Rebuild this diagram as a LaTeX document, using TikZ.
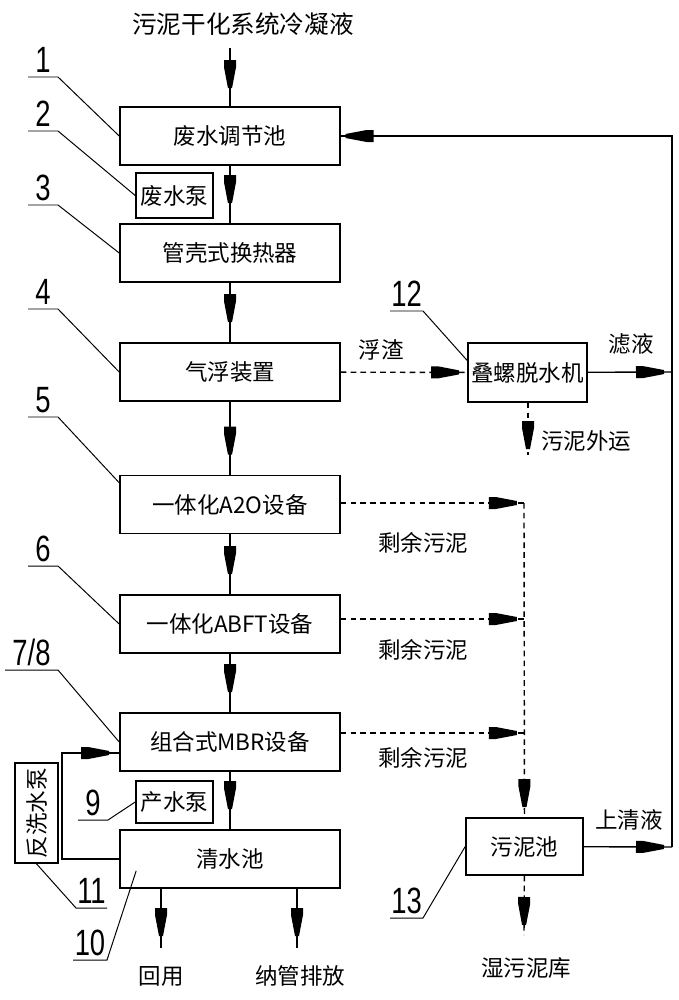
\documentclass[tikz,border=0pt]{standalone}
\usepackage{fontspec}
\setmainfont{Noto Sans CJK SC}
\newfontfamily\numfont[FakeStretch=0.75]{Liberation Sans}
\usetikzlibrary{arrows.meta,decorations.markings,calc}
\tikzset{
  box/.style={draw, line width=1.1pt, minimum width=5.5cm, minimum height=1.45cm, inner sep=0pt, font=\fontsize{16}{16}\selectfont},
  lbl/.style={inner sep=0pt, font=\fontsize{16}{16}\selectfont},
  numtext/.style={inner sep=0pt, anchor=base, font=\numfont\fontsize{26}{26}\selectfont},
  leader/.style={line width=0.7pt},
  mainline/.style={line width=2pt},
  thinline/.style={line width=1pt},
  sludge/.style={line width=1pt, dash pattern=on 4pt off 3pt},
  flow/.style={postaction={decorate}, decoration={markings, mark=at position #1 with {\fill (-28,-6) -- (-21,-6) -- (0,-2) -- (0,2) -- (-21,6) -- (-28,6) -- cycle;}}},
  flow/.default={-0.2cm}
}
\newcommand{\procbox}[3] {\node at (#1) (#2) [box] {#3};}
\newcommand{\unitbox}[5] {\node at (#1) (#2) [box, minimum width=#4, minimum height=#5] {#3};}
\newcommand{\callout}[5] {\node at ($(#1)!0.5!(#2)+(0,-5)$) (#3) [numtext] {#4}; \draw [leader] (#1) -- (#2) -- (#5);}

\begin{document}
\begin{tikzpicture}[x=0.025cm, y=-0.025cm]
\useasboundingbox (0,0) rectangle (678,1000);

\node at (243,24) (src) [lbl, font=\fontsize{17.5}{17.5}\selectfont] {污泥干化系统冷凝液};
\procbox {230,136} {b1} {废水调节池}
\unitbox {174.5,195.5} {p2} {废水泵} {1.925cm} {1.125cm}
\procbox {230,253} {b3} {管壳式换热器}
\procbox {230,372} {b4} {气浮装置}
\procbox {230,504.5} {b5} {一体化A2O设备}
\procbox {230,624} {b6} {一体化ABFT设备}
\procbox {230,742} {b7} {组合式MBR设备}
\unitbox {174.5,802} {p9} {产水泵} {1.925cm} {1.05cm}
\procbox {230,859} {b10} {清水池}
\node at (36.5,813) (p11) [box, rotate=90, minimum width=2.5cm, minimum height=1.075cm] {反洗水泵};
\unitbox {527.5,372.5} {b12} {叠螺脱水机} {2.975cm} {1.475cm}
\unitbox {524.5,846.5} {b13} {污泥池} {2.925cm} {1.425cm}

\node at (381,350) (fz) [lbl] {浮渣};
\node at (631,344) (ly) [lbl] {滤液};
\node at (586,441) (wy) [lbl] {污泥外运};
\node at (423,543) (sy1) [lbl] {剩余污泥};
\node at (423,650) (sy2) [lbl] {剩余污泥};
\node at (423,758) (sy3) [lbl] {剩余污泥};
\node at (629,820) (sq) [lbl] {上清液};
\node at (526,968) (ku) [lbl] {湿污泥库};
\node at (161,976) (hy) [lbl] {回用};
\node at (300,976) (ng) [lbl] {纳管排放};

\coordinate (in) at (230,48);
\coordinate (o1) at (161,948);
\coordinate (o2) at (297,948);
\coordinate (r0) at (672,136);
\coordinate (r1) at (672,372);
\coordinate (r2) at (672,847);
\coordinate (s1) at (528,455);
\coordinate (s2) at (524,935);
\coordinate (j1) at (524,503);
\coordinate (j2) at (524,619);
\coordinate (j3) at (524,733);
\coordinate (bw) at (62,753);

\draw [mainline, flow=-0.45cm] (in) -- (b1);
\draw [mainline, flow=-0.5cm] (b1) -- (b3);
\draw [mainline, flow=-0.5cm] (b3) -- (b4);
\draw [mainline, flow=-0.5cm] (b4) -- (b5);
\draw [mainline, flow=-0.5cm] (b5) -- (b6);
\draw [mainline, flow=-0.5cm] (b6) -- (b7);
\draw [mainline, flow=-0.5cm] (b7) -- (b10);
\draw [mainline, flow=-0.3cm] (b10.south -| o1) -- (o1);
\draw [mainline, flow=-0.3cm] (b10.south -| o2) -- (o2);

\draw [sludge, flow] (b4) -- (b12);
\draw [sludge, flow=-0.15cm] (b12.south -| s1) -- (s1);
\draw [thinline, flow] (b12) -- (r1);
\draw [thinline, flow] (b13) -- (r2);
\draw [thinline, flow=-0.12cm] (r2) -- (r0) -- (b1);

\draw [sludge, flow=-0.18cm] (j1 -| b5.east) -- (j1);
\draw [sludge, flow=-0.18cm] (j2 -| b6.east) -- (j2);
\draw [sludge, flow=-0.18cm] (j3 -| b7.east) -- (j3);
\draw [sludge, flow=-0.25cm] (j1) -- (b13);
\draw [sludge, flow=-0.25cm] (b13) -- (s2);

\draw [thinline, flow=-0.25cm] (b10.west) -| (bw) -- (bw -| b7.west);

\callout {28,77} {58,77} {n1} {1} {b1.west}
\callout {28,131} {58,131} {n2} {2} {p2.west}
\callout {28,205} {58,205} {n3} {3} {b3.west}
\callout {28,309} {58,309} {n4} {4} {b4.west}
\callout {28,417} {58,417} {n5} {5} {$(b5.north west)+(0,8)$}
\callout {28,566} {58,566} {n6} {6} {b6.west}
\callout {5,670} {58,670} {n78} {7/8} {b7.west}
\callout {78,820} {108,820} {n9} {9} {p9.west}
\callout {107,908} {76,908} {n11} {11} {p11.west}
\callout {73,960} {107,960} {n10} {10} {$(b10.south west)+(17,-18)$}
\callout {390,311} {423,311} {n12} {12} {$(b12.west)+(0,-12)$}
\callout {390,918} {423,918} {n13} {13} {b13.west}
\end{tikzpicture}
\end{document}
